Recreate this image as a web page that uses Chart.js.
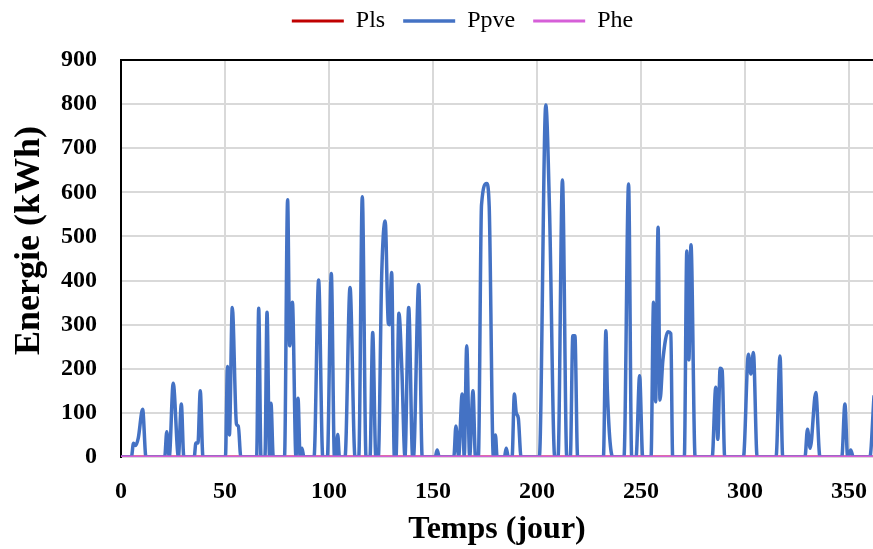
<!DOCTYPE html>
<html>
<head>
<meta charset="utf-8">
<title>Energie</title>
<script src="https://cdn.jsdelivr.net/npm/chart.js@4.4.1/dist/chart.umd.min.js"></script>
<style>
  html, body { margin: 0; padding: 0; background: #fff; }
  #wrap { width: 873px; height: 549px; }
</style>
</head>
<body>
<div id="wrap"><canvas id="energyChart" width="873" height="549"></canvas></div>
<script>
// Ppve: day (x) and energy in kWh (y)
const ppveDays = [
  0, 5, 6, 7, 8.3, 10.4, 12,
  21, 22, 23.2, 25.1, 27.6, 29, 30.2,
  35.2, 36, 37, 38.1, 39.4,
  50.2, 51.2, 52.1, 53.5, 55.5, 56.4, 57.6,
  65.2, 66.2, 67.3, 69.2, 70.2, 71.4, 72.1, 73.2,
  78.6, 80.1, 81.1, 82.4, 84.1, 85.1, 86.1, 87, 87.9,
  92.8, 95, 97, 99.2, 101.1, 102.6, 103.3, 104.2, 105,
  107.7, 110.1, 112.5, 114.3, 116, 117.8, 119.7, 121, 122.5,
  123.7, 125.3, 127, 128.5, 129, 130.1, 131.4,
  132.2, 133.6, 135, 136.5, 138.3, 140.2, 140.6, 143.1, 144.8,
  151, 152, 153, 160, 161, 162.3, 164, 165, 166.2, 167.6, 169.2, 170.4,
  171.8, 173.3, 175.8, 177, 179, 180, 180.8, 184.3, 185.2, 186.2,
  188, 189.1, 190, 191, 192.3,
  201.1, 204.2, 206, 208.5, 210.1, 212.2, 214.3, 216, 217.2, 218.2, 219.5,
  231.9, 233.1, 233.8, 236.4, 241.8, 244, 245.5, 247.6, 249.3, 250.8,
  254.8, 256, 257, 258.2, 259.1, 260.5, 263, 264.3, 265.2,
  270.8, 272, 273, 274, 276, 284.2, 285.9, 286.9, 288, 289, 290.2,
  299.2, 301.6, 302.8, 304, 305.8, 314.9, 316.8, 318.1,
  328.8, 330, 331.3, 334, 336, 346.5, 348, 349.3, 350.8, 352, 360, 362
];
const ppveValues = [
  0, 0, 31, 26, 43, 108, 0,
  0, 57, 0, 167, 0, 120, 0,
  0, 32, 32, 150, 0,
  0, 205, 50, 339, 75, 70, 0,
  0, 337, 0, 0, 328, 0, 122, 0,
  0, 583, 252, 351, 0, 133, 0, 20, 0,
  0, 401, 0, 0, 416, 0, 0, 51, 0,
  0, 384, 0, 0, 590, 0, 0, 282, 0,
  0, 409, 535, 303, 300, 418, 0,
  0, 326, 200, 0, 339, 0, 0, 391, 0,
  0, 16, 0, 0, 70, 0, 143, 0, 252, 0, 150, 0,
  0, 571, 620, 568, 0, 50, 0, 0, 20, 0,
  0, 143, 100, 88, 0,
  0, 798, 560, 0, 0, 628, 0, 0, 275, 275, 0,
  0, 286, 150, 0, 0, 619, 0, 0, 184, 0,
  0, 351, 125, 521, 129, 220, 284, 280, 0,
  0, 467, 220, 481, 0, 0, 158, 40, 201, 196, 0,
  0, 233, 188, 237, 0, 0, 229, 0,
  0, 63, 20, 146, 0, 0, 120, 0, 16, 0, 0, 140
];

// Pls and Phe stay at zero over the whole year
const flatDays = [0, 365];
const plsValues = [0, 0];
const pheValues = [0, 0];

const seriesNames = ["Pls", "Ppve", "Phe"];
const seriesColors = ["#c00000", "#4472c4", "#d65fd8"];

const xTickValues = [0, 50, 100, 150, 200, 250, 300, 350];
const yTicksStep = 100;

const FONT = "'Liberation Serif', 'Times New Roman', serif";

function toPoints(days, values) {
  return days.map((d, i) => ({ x: d, y: values[i] }));
}

function lineDataset(idx, days, values, order, width) {
  return {
    label: seriesNames[idx],
    data: toPoints(days, values),
    borderColor: seriesColors[idx],
    backgroundColor: seriesColors[idx],
    borderWidth: width,
    pointRadius: 0,
    fill: false,
    tension: 0.4,
    cubicInterpolationMode: "monotone",
    order
  };
}

// move the legend a bit, the original is not centred on the canvas
const legendShift = {
  id: "legendShift",
  afterLayout(chart) {
    const lg = chart.legend;
    if (!lg) {
      return;
    }
    lg.left += 26;
    lg.right += 26;
    lg.top -= 17;
    lg.bottom -= 17;
  }
};

const canvas = document.getElementById("energyChart");

new Chart(canvas, {
  type: "line",
  data: {
    datasets: [
      lineDataset(0, flatDays, plsValues, 2, 3),
      lineDataset(1, ppveDays, ppveValues, 1, 3.5),
      lineDataset(2, flatDays, pheValues, 0, 3)
    ]
  },
  options: {
    responsive: false,
    animation: false,
    layout: { padding: 0 },
    plugins: {
      tooltip: { enabled: false },
      legend: {
        position: "top",
        labels: {
          usePointStyle: true,
          pointStyle: "line",
          pointStyleWidth: 52,
          boxHeight: 24,
          padding: 18,
          color: "#000",
          font: { family: FONT, size: 24 },
          sort: (a, b) => a.datasetIndex - b.datasetIndex
        }
      }
    },
    scales: {
      x: {
        type: "linear",
        min: 0,
        max: 361.5,
        afterBuildTicks(scale) {
          scale.ticks = xTickValues.map((v) => ({ value: v }));
        },
        afterFit(scale) {
          scale.height = 92;
          scale.paddingLeft = 0;
          scale.paddingRight = 0;
        },
        ticks: {
          maxRotation: 0,
          autoSkip: false,
          padding: 20,
          color: "#000",
          font: { family: FONT, size: 24, weight: "bold" }
        },
        grid: {
          color: "#d9d9d9",
          lineWidth: 2,
          drawTicks: false
        },
        border: { display: false },
        title: {
          display: true,
          text: "Temps (jour)",
          color: "#000",
          padding: { top: 0, bottom: 0 },
          font: { family: FONT, size: 32, weight: "bold" }
        }
      },
      y: {
        min: 0,
        max: 900,
        afterFit(scale) {
          scale.width = 121;
          scale.paddingTop = 60;
        },
        ticks: {
          stepSize: yTicksStep,
          padding: 24,
          color: "#000",
          font: { family: FONT, size: 24, weight: "bold" }
        },
        grid: {
          color: (ctx) => (ctx.tick && ctx.tick.value === 900 ? "#000" : "#d9d9d9"),
          lineWidth: 2,
          drawTicks: false
        },
        border: { display: true, color: "#000", width: 2 },
        title: {
          display: true,
          // leading spaces lift the title a little, as in the original
          text: "    Energie (kWh)",
          color: "#000",
          padding: { top: 8, bottom: 0 },
          font: { family: FONT, size: 36, weight: "bold" }
        }
      }
    }
  },
  plugins: [legendShift]
});
</script>
</body>
</html>
